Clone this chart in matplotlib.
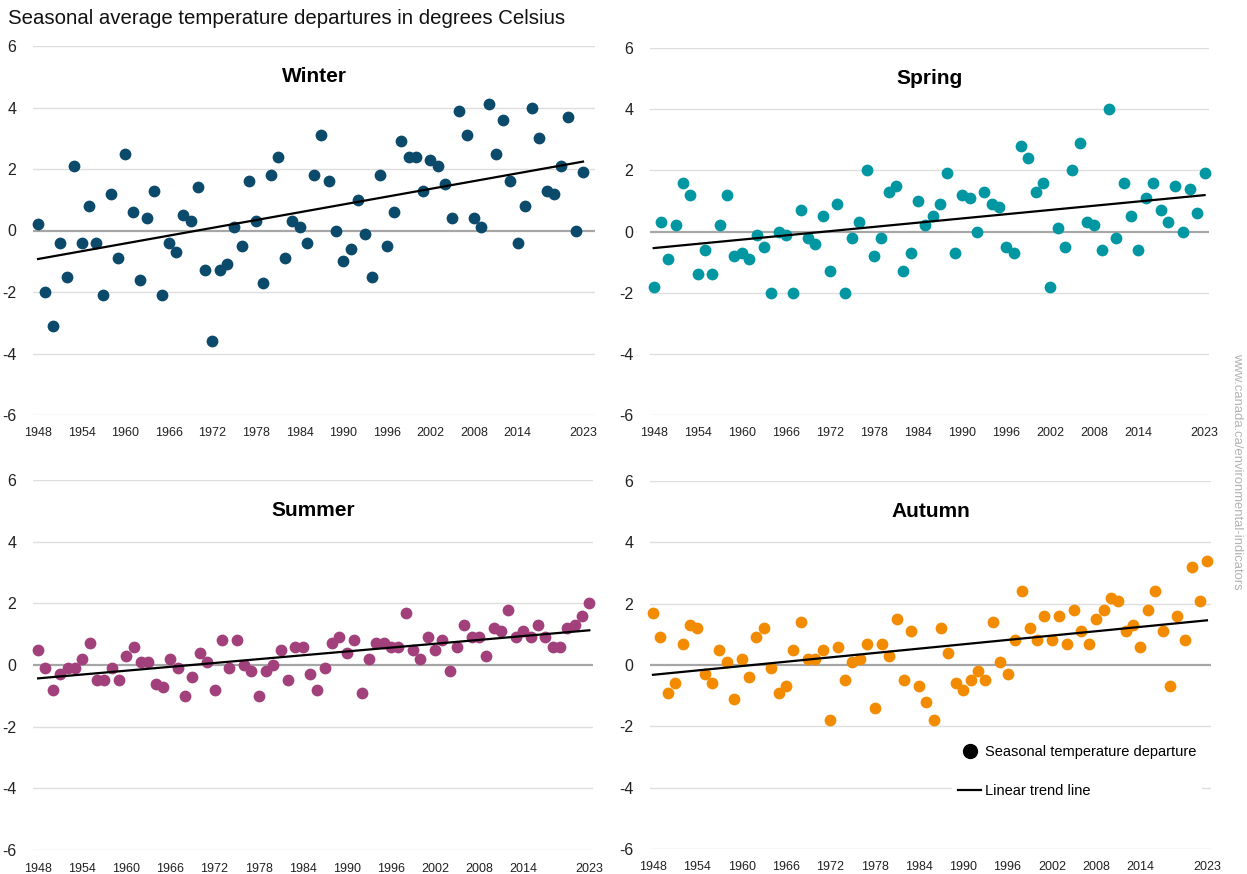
import numpy as np
import matplotlib
matplotlib.use('Agg')
import matplotlib.pyplot as plt
from matplotlib.lines import Line2D

plt.rcParams['font.family'] = ['Liberation Sans', 'DejaVu Sans']
plt.rcParams['axes.unicode_minus'] = False

years = list(range(1948, 2024))

winter = [0.2, -2.0, -3.1, -0.4, -1.5, 2.1, -0.4, 0.8, -0.4, -2.1,
          1.2, -0.9, 2.5, 0.6, -1.6, 0.4, 1.3, -2.1, -0.4, -0.7,
          0.5, 0.3, 1.4, -1.3, -3.6, -1.3, -1.1, 0.1, -0.5, 1.6,
          0.3, -1.7, 1.8, 2.4, -0.9, 0.3, 0.1, -0.4, 1.8, 3.1,
          1.6, 0.0, -1.0, -0.6, 1.0, -0.1, -1.5, 1.8, -0.5, 0.6,
          2.9, 2.4, 2.4, 1.3, 2.3, 2.1, 1.5, 0.4, 3.9, 3.1,
          0.4, 0.1, 4.1, 2.5, 3.6, 1.6, -0.4, 0.8, 4.0, 3.0,
          1.3, 1.2, 2.1, 3.7, 0.0, 1.9]

spring = [-1.8, 0.3, -0.9, 0.2, 1.6, 1.2, -1.4, -0.6, -1.4, 0.2,
          1.2, -0.8, -0.7, -0.9, -0.1, -0.5, -2.0, 0.0, -0.1, -2.0,
          0.7, -0.2, -0.4, 0.5, -1.3, 0.9, -2.0, -0.2, 0.3, 2.0,
          -0.8, -0.2, 1.3, 1.5, -1.3, -0.7, 1.0, 0.2, 0.5, 0.9,
          1.9, -0.7, 1.2, 1.1, 0.0, 1.3, 0.9, 0.8, -0.5, -0.7,
          2.8, 2.4, 1.3, 1.6, -1.8, 0.1, -0.5, 2.0, 2.9, 0.3,
          0.2, -0.6, 4.0, -0.2, 1.6, 0.5, -0.6, 1.1, 1.6, 0.7,
          0.3, 1.5, 0.0, 1.4, 0.6, 1.9]

summer = [0.5, -0.1, -0.8, -0.3, -0.1, -0.1, 0.2, 0.7, -0.5, -0.5,
          -0.1, -0.5, 0.3, 0.6, 0.1, 0.1, -0.6, -0.7, 0.2, -0.1,
          -1.0, -0.4, 0.4, 0.1, -0.8, 0.8, -0.1, 0.8, 0.0, -0.2,
          -1.0, -0.2, 0.0, 0.5, -0.5, 0.6, 0.6, -0.3, -0.8, -0.1,
          0.7, 0.9, 0.4, 0.8, -0.9, 0.2, 0.7, 0.7, 0.6, 0.6,
          1.7, 0.5, 0.2, 0.9, 0.5, 0.8, -0.2, 0.6, 1.3, 0.9,
          0.9, 0.3, 1.2, 1.1, 1.8, 0.9, 1.1, 0.9, 1.3, 0.9,
          0.6, 0.6, 1.2, 1.3, 1.6, 2.0]

autumn = [1.7, 0.9, -0.9, -0.6, 0.7, 1.3, 1.2, -0.3, -0.6, 0.5,
          0.1, -1.1, 0.2, -0.4, 0.9, 1.2, -0.1, -0.9, -0.7, 0.5,
          1.4, 0.2, 0.2, 0.5, -1.8, 0.6, -0.5, 0.1, 0.2, 0.7,
          -1.4, 0.7, 0.3, 1.5, -0.5, 1.1, -0.7, -1.2, -1.8, 1.2,
          0.4, -0.6, -0.8, -0.5, -0.2, -0.5, 1.4, 0.1, -0.3, 0.8,
          2.4, 1.2, 0.8, 1.6, 0.8, 1.6, 0.7, 1.8, 1.1, 0.7,
          1.5, 1.8, 2.2, 2.1, 1.1, 1.3, 0.6, 1.8, 2.4, 1.1,
          -0.7, 1.6, 0.8, 3.2, 2.1, 3.4]

seasons = ['Winter', 'Spring', 'Summer', 'Autumn']
series = [winter, spring, summer, autumn]
colors = ['#0c4a6b', '#0097a3', '#a2407b', '#f28b00']

xticks = [1948, 1954, 1960, 1966, 1972, 1978, 1984, 1990, 1996, 2002, 2008, 2014, 2023]
yticks = [-6, -4, -2, 0, 2, 4, 6]

W, H = 1247, 874
fig = plt.figure(figsize=(W / 100, H / 100), dpi=100)

# pixel boxes: left, right, top, bottom ; x limits
boxes = [(33, 595, 46, 415), (650, 1209, 48, 415),
         (33, 593, 480, 850), (650, 1211, 481, 849)]
xlims = [(1947.3, 2024.65), (1947.5, 2023.6), (1947.3, 2023.5), (1947.6, 2023.55)]

yrs = np.array(years)
for name, vals, col, (l, r, t, b), xl in zip(seasons, series, colors, boxes, xlims):
    ax = fig.add_axes([l / W, 1 - b / H, (r - l) / W, (b - t) / H])
    ax.set_xlim(*xl)
    ax.set_ylim(-6, 6)
    for s in ax.spines.values():
        s.set_visible(False)
    for y in yticks:
        if y == 0:
            ax.axhline(0, color='#a6a6a6', lw=1.6, zorder=1)
        else:
            ax.axhline(y, color='#dedede', lw=1.0, zorder=1)
    ax.scatter(years, vals, s=72, color=col, linewidths=0, zorder=3, clip_on=False)
    k, c = np.polyfit(yrs, np.array(vals), 1)
    ax.plot([1948, 2023], [k * 1948 + c, k * 2023 + c], color='black', lw=1.6, zorder=4)
    ax.set_xticks(xticks)
    ax.set_yticks(yticks)
    ax.tick_params(axis='x', length=0, pad=9, labelsize=9, labelcolor='#222222')
    ax.tick_params(axis='y', length=0, pad=12, labelsize=11.5, labelcolor='#222222')
    ax.text(0.5, 0.918, name, transform=ax.transAxes, ha='center', va='center',
            fontsize=15, fontweight='bold')
    last_ax = ax

handles = [Line2D([], [], marker='o', color='black', linestyle='none', markersize=10),
           Line2D([], [], color='black', lw=1.6)]
leg = last_ax.legend(handles, ['Seasonal temperature departure', 'Linear trend line'],
                     loc='upper left', bbox_to_anchor=(952 / W, 1 - 739 / H),
                     bbox_transform=fig.transFigure, frameon=True, fancybox=False,
                     edgecolor='none', facecolor='white', framealpha=1,
                     fontsize=10.5, handlelength=1.6, handletextpad=0.25,
                     labelspacing=1.72, borderpad=0.4, borderaxespad=0)
leg.set_zorder(5)

fig.text(8 / W, 1 - 18 / H, 'Seasonal average temperature departures in degrees Celsius',
         ha='left', va='center', fontsize=14.7, color='#111111')
fig.text(1237 / W, 1 - 471 / H, 'www.canada.ca/environmental-indicators', rotation=-90,
         ha='center', va='center', fontsize=9.4, color='#b3b3b3')

fig.savefig('out.png', dpi=100)
